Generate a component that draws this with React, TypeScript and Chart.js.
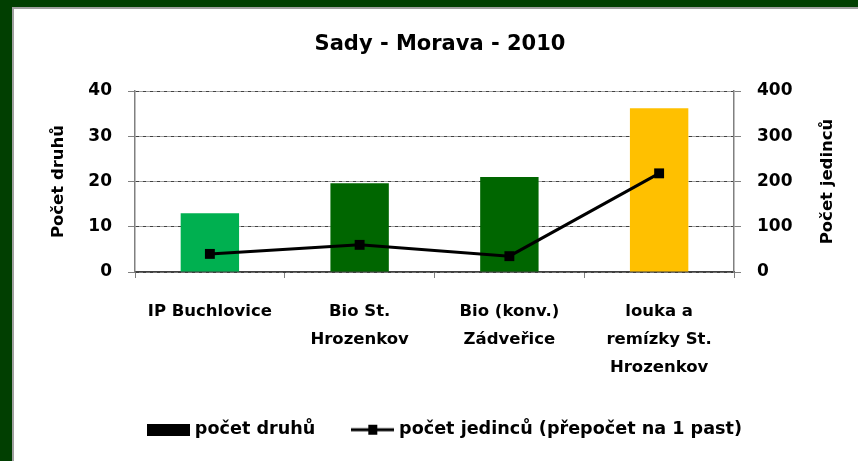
import React, { useEffect, useRef } from "react";
import { Chart, registerables } from "chart.js";

Chart.register(...registerables);

const chartTitle = "Sady - Morava - 2010";
const categories: (string | string[])[] = [
  "IP Buchlovice",
  ["Bio St.", "Hrozenkov"],
  ["Bio (konv.)", "Zádveřice"],
  ["louka a", "remízky St.", "Hrozenkov"],
];
const speciesLabel = "počet druhů";
const individualsLabel = "počet jedinců (přepočet na 1 past)";
const speciesCount = [13, 19.6, 21, 36.2];
const individualsCount = [40, 60, 35, 218];
const barColors = ["#00B050", "#006600", "#006600", "#FFC000"];
const leftTitle = "Počet druhů";
const rightTitle = "Počet jedinců";

const FONT = "'DejaVu Sans', sans-serif";
const GREEN_FRAME = "#013f01";

const LEG_FONT = 17.6;
const LEG_PAD = 40;
const PAD_BOTTOM = 12.5;
const PLOT_BOTTOM = 272;
const LEGEND_H = LEG_FONT + LEG_PAD + 10;
const X_AXIS_H = 461 - PAD_BOTTOM - LEGEND_H - PLOT_BOTTOM;

function makeBoxImage(): HTMLCanvasElement {
  const c = document.createElement("canvas");
  c.width = 43;
  c.height = 12;
  const g = c.getContext("2d")!;
  g.fillStyle = "#000";
  g.fillRect(0, 0, 43, 12);
  return c;
}

function makeLineImage(): HTMLCanvasElement {
  const c = document.createElement("canvas");
  c.width = 43;
  c.height = 12;
  const g = c.getContext("2d")!;
  g.fillStyle = "#000";
  g.fillRect(0, 4.5, 43, 3);
  g.fillRect(17, 1, 9, 10);
  return c;
}

const rightTitlePlugin = {
  id: "rightTitle",
  afterDraw(chart: any) {
    const s = chart.scales.y1;
    if (!s) return;
    const ctx = chart.ctx;
    ctx.save();
    ctx.translate(s.right - 30, (s.top + s.bottom) / 2);
    ctx.rotate(-Math.PI / 2);
    ctx.font = `bold 16.5px ${FONT}`;
    ctx.textAlign = "center";
    ctx.textBaseline = "middle";
    ctx.fillStyle = "#000";
    ctx.fillText(rightTitle, 0, 0);
    ctx.restore();
  },
};

const legendShiftPlugin = {
  id: "legendShift",
  afterLayout(chart: any) {
    const lg = chart.legend;
    if (!lg) return;
    lg.left += 6.5;
    lg.right += 6.5;
  },
};

export default function App() {
  const ref = useRef<HTMLCanvasElement>(null);

  useEffect(() => {
    document.body.style.margin = "0";
    const canvas = ref.current!;
    const boxImg = makeBoxImage();
    const lineImg = makeLineImage();
    const chart = new Chart(canvas, {
      type: "bar",
      data: {
        labels: categories as any,
        datasets: [
          {
            type: "bar",
            label: speciesLabel,
            data: speciesCount,
            yAxisID: "y",
            backgroundColor: barColors,
            borderWidth: 0,
            barPercentage: 0.39,
            categoryPercentage: 1,
            order: 1,
          } as any,
          {
            type: "line",
            label: individualsLabel,
            data: individualsCount,
            yAxisID: "y1",
            borderColor: "#000",
            borderWidth: 3,
            pointStyle: "rect",
            pointRadius: 7,
            pointBackgroundColor: "#000",
            pointBorderColor: "#000",
            pointBorderWidth: 0,
            tension: 0,
            order: 0,
          } as any,
        ],
      },
      options: {
        responsive: false,
        animation: false,
        layout: { padding: { left: 22, right: 0, top: 32.4, bottom: PAD_BOTTOM } },
        plugins: {
          title: {
            display: true,
            text: chartTitle,
            color: "#000",
            font: { family: FONT, size: 21, weight: "bold" },
            padding: { top: 0, bottom: 33.4 },
          },
          legend: {
            position: "bottom",
            labels: {
              usePointStyle: true,
              pointStyleWidth: 35,
              boxHeight: 12,
              padding: LEG_PAD,
              color: "#000",
              font: { family: FONT, size: LEG_FONT, weight: "bold" },
              generateLabels: () => [
                {
                  text: speciesLabel,
                  pointStyle: boxImg as any,
                  fillStyle: "#000",
                  strokeStyle: "#000",
                  lineWidth: 0,
                  hidden: false,
                  datasetIndex: 0,
                  fontColor: "#000",
                },
                {
                  text: individualsLabel,
                  pointStyle: lineImg as any,
                  fillStyle: "#000",
                  strokeStyle: "#000",
                  lineWidth: 0,
                  hidden: false,
                  datasetIndex: 1,
                  fontColor: "#000",
                },
              ],
            },
          },
          tooltip: { enabled: false },
        },
        scales: {
          x: {
            grid: {
              offset: true,
              drawOnChartArea: false,
              drawTicks: true,
              tickLength: 6,
              color: "#808080",
              tickColor: "#808080",
            },
            border: { color: "#404040", width: 1.5 },
            ticks: {
              color: "#000",
              font: { family: FONT, size: 16.5, weight: "bold", lineHeight: 28 / 16.5 },
              padding: 20,
              maxRotation: 0,
              autoSkip: false,
            },
            afterFit: (s: any) => {
              s.height = X_AXIS_H;
            },
          },
          y: {
            position: "left",
            min: 0,
            max: 40,
            ticks: {
              stepSize: 10,
              padding: 16,
              color: "#000",
              font: { family: FONT, size: 17, weight: "bold" },
            },
            grid: {
              color: "#404040",
              lineWidth: 1,
              tickLength: 7,
              tickColor: "#808080",
              tickBorderDash: [],
            },
            border: { color: "#808080", width: 1.5, dash: [4, 1, 1, 1] },
            title: {
              display: true,
              text: leftTitle,
              color: "#000",
              font: { family: FONT, size: 16.5, weight: "bold" },
              padding: { top: 27, bottom: 0 },
            },
            afterFit: (s: any) => {
              s.width = 113;
            },
          },
          y1: {
            position: "right",
            min: 0,
            max: 400,
            ticks: {
              stepSize: 100,
              padding: 16,
              color: "#000",
              font: { family: FONT, size: 17, weight: "bold" },
            },
            grid: {
              drawOnChartArea: false,
              drawTicks: true,
              tickLength: 7,
              color: "#808080",
              tickColor: "#808080",
            },
            border: { color: "#808080", width: 1.5 },
            afterFit: (s: any) => {
              s.width = 124;
            },
          },
        },
      } as any,
      plugins: [rightTitlePlugin, legendShiftPlugin],
    });
    return () => chart.destroy();
  }, []);

  return (
    <div
      style={{
        position: "fixed",
        left: 0,
        top: 0,
        width: 858,
        height: 461,
        background: "#fff",
        overflow: "hidden",
      }}
    >
      <canvas
        ref={ref}
        width={858}
        height={461}
        style={{ position: "absolute", left: 0, top: 0, width: 858, height: 461 }}
      />
      <div style={{ position: "absolute", left: 0, top: 0, width: 858, height: 7, background: GREEN_FRAME }} />
      <div style={{ position: "absolute", left: 12, top: 7, width: 846, height: 2, background: "#a0a0a0" }} />
      <div style={{ position: "absolute", left: 0, top: 0, width: 12, height: 461, background: GREEN_FRAME }} />
      <div style={{ position: "absolute", left: 12, top: 7, width: 1.5, height: 454, background: "#a0a0a0" }} />
    </div>
  );
}
